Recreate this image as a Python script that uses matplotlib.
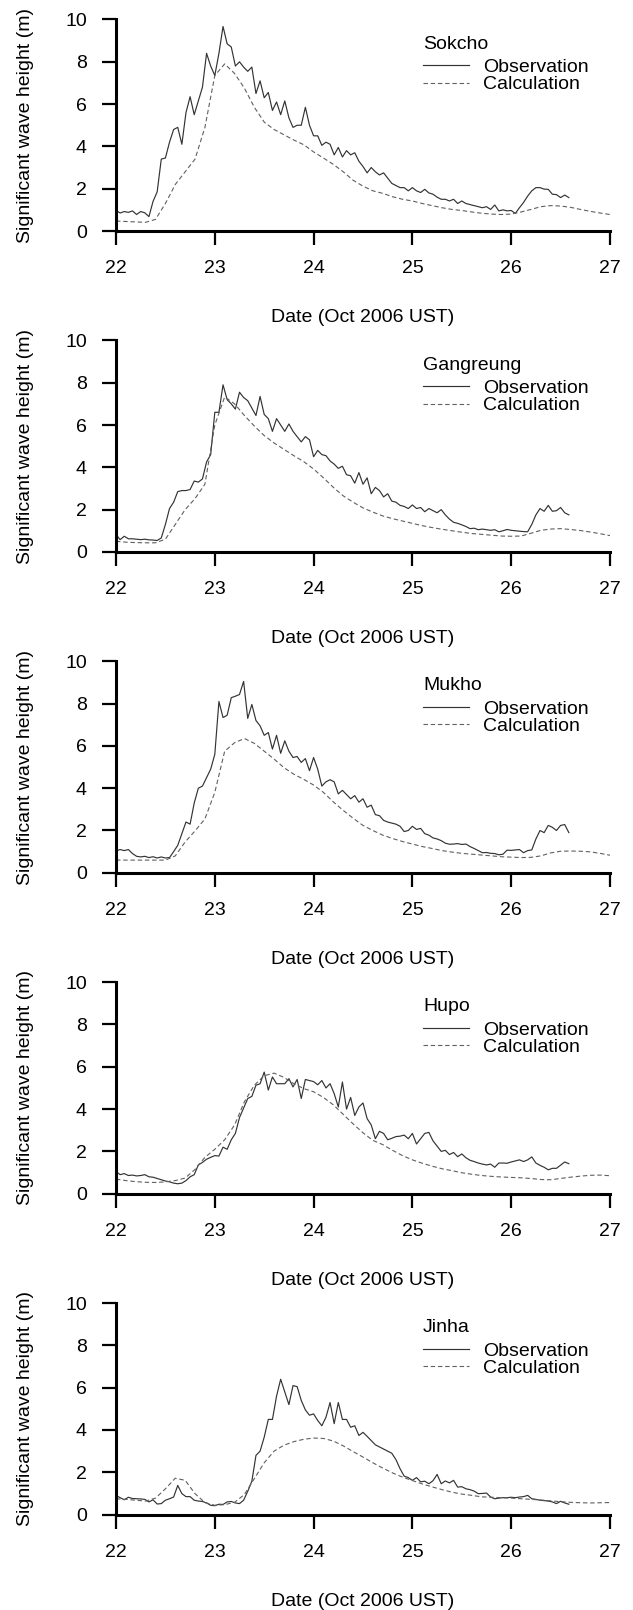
import numpy as np
import matplotlib.pyplot as plt
from matplotlib.lines import Line2D

stations = ['Sokcho', 'Gangreung', 'Mukho', 'Hupo', 'Jinha']

# hourly observations from 22 Oct 00h, calculation every 0.1 day
obs_days = 22 + np.arange(111) / 24
calc_days = np.round(np.arange(220, 271) / 10, 1)

obs_sokcho = [0.98, 0.85, 0.92, 0.88, 0.95, 0.78, 0.92, 0.86, 0.68, 1.40,
              1.85, 3.40, 3.45, 4.20, 4.80, 4.90, 4.10, 5.60, 6.35, 5.50,
              6.15, 6.80, 8.40, 7.80, 7.35, 8.40, 9.67, 8.85, 8.70, 7.80,
              8.00, 7.75, 7.55, 7.75, 6.50, 7.10, 6.30, 6.55, 5.70, 6.10,
              5.50, 6.15, 5.35, 4.90, 5.00, 5.00, 5.85, 5.00, 4.50, 4.50,
              4.05, 4.20, 4.10, 3.60, 3.95, 3.50, 3.80, 3.60, 3.70, 3.30,
              3.05, 2.75, 3.00, 2.80, 2.65, 2.75, 2.50, 2.25, 2.15, 2.05,
              2.05, 1.90, 2.05, 1.90, 1.82, 1.97, 1.80, 1.74, 1.60, 1.50,
              1.50, 1.42, 1.50, 1.30, 1.42, 1.30, 1.25, 1.20, 1.15, 1.10,
              1.15, 1.02, 1.23, 0.95, 1.00, 0.95, 0.97, 0.83, 1.10, 1.35,
              1.65, 1.90, 2.05, 2.05, 1.98, 1.97, 1.74, 1.72, 1.58, 1.70, 1.58]
obs_gangreung = [0.82, 0.58, 0.74, 0.62, 0.62, 0.60, 0.58, 0.60, 0.57, 0.56,
                 0.54, 0.66, 1.30, 2.05, 2.35, 2.85, 2.90, 2.90, 2.95, 3.35,
                 3.30, 3.45, 4.25, 4.60, 6.60, 6.60, 7.90, 7.20, 7.00, 6.75,
                 7.55, 7.30, 7.15, 6.80, 6.45, 7.35, 6.50, 6.30, 5.70, 6.30,
                 6.00, 5.70, 6.05, 5.70, 5.45, 5.20, 5.45, 5.30, 4.50, 4.80,
                 4.60, 4.55, 4.30, 4.15, 3.95, 4.05, 3.65, 3.60, 3.25, 3.75,
                 3.20, 3.50, 2.75, 3.05, 2.90, 2.60, 2.75, 2.40, 2.35, 2.20,
                 2.15, 2.05, 2.22, 2.05, 2.10, 1.90, 2.05, 1.95, 1.85, 2.00,
                 1.75, 1.55, 1.40, 1.35, 1.28, 1.20, 1.10, 1.12, 1.05, 1.08,
                 1.05, 1.02, 1.05, 0.95, 1.00, 1.06, 1.02, 1.00, 0.98, 0.96,
                 0.95, 1.30, 1.75, 2.05, 1.92, 2.20, 1.92, 1.95, 2.10, 1.85, 1.75]
obs_mukho = [1.03, 1.10, 1.05, 1.10, 0.91, 0.78, 0.75, 0.78, 0.72, 0.76,
             0.70, 0.75, 0.70, 0.72, 1.00, 1.30, 1.85, 2.40, 2.30, 3.30,
             4.00, 4.10, 4.50, 4.90, 5.60, 8.10, 7.34, 7.45, 8.28, 8.35,
             8.43, 9.05, 7.30, 7.96, 7.20, 6.95, 6.50, 6.63, 5.85, 6.50,
             5.65, 6.24, 5.75, 5.45, 5.50, 5.22, 5.40, 4.83, 5.45, 4.90,
             4.10, 4.30, 4.40, 4.30, 3.73, 3.90, 3.70, 3.50, 3.65, 3.34,
             3.50, 3.10, 3.20, 2.75, 2.70, 2.48, 2.40, 2.35, 2.30, 2.20,
             1.95, 2.00, 2.20, 2.05, 2.10, 1.85, 1.78, 1.65, 1.60, 1.52,
             1.40, 1.35, 1.36, 1.38, 1.34, 1.36, 1.24, 1.15, 1.05, 0.95,
             0.96, 0.92, 0.91, 0.85, 0.88, 1.07, 1.06, 1.08, 1.10, 0.95,
             1.05, 1.08, 1.60, 2.00, 1.90, 2.24, 2.15, 2.00, 2.24, 2.28, 1.90]
obs_hupo = [1.05, 0.90, 0.95, 0.86, 0.88, 0.84, 0.86, 0.90, 0.80, 0.78,
            0.72, 0.66, 0.60, 0.56, 0.50, 0.47, 0.50, 0.62, 0.80, 0.90,
            1.36, 1.48, 1.63, 1.72, 1.80, 1.78, 2.20, 2.10, 2.55, 2.85,
            3.60, 4.05, 4.50, 4.60, 5.13, 5.20, 5.75, 4.90, 5.52, 5.20,
            5.20, 5.20, 5.44, 5.05, 5.40, 4.50, 5.40, 5.35, 5.30, 5.15,
            5.35, 5.00, 5.20, 4.73, 4.10, 5.28, 4.00, 4.55, 3.70, 4.10,
            4.29, 3.55, 3.25, 2.60, 2.95, 2.85, 2.55, 2.62, 2.70, 2.72,
            2.77, 2.60, 2.85, 2.35, 2.60, 2.85, 2.90, 2.50, 2.25, 2.00,
            2.05, 1.85, 1.95, 1.75, 1.88, 1.70, 1.58, 1.52, 1.45, 1.40,
            1.36, 1.40, 1.25, 1.45, 1.45, 1.44, 1.50, 1.55, 1.60, 1.52,
            1.60, 1.74, 1.45, 1.34, 1.25, 1.13, 1.20, 1.20, 1.35, 1.50, 1.42]
obs_jinha = [0.91, 0.80, 0.70, 0.82, 0.76, 0.75, 0.74, 0.72, 0.60, 0.70,
             0.50, 0.52, 0.68, 0.75, 0.83, 1.38, 0.99, 0.85, 0.85, 0.68,
             0.64, 0.62, 0.55, 0.44, 0.42, 0.49, 0.48, 0.60, 0.62, 0.55,
             0.52, 0.68, 1.10, 1.58, 2.80, 3.00, 3.66, 4.50, 4.50, 5.60,
             6.40, 5.80, 5.20, 6.10, 6.05, 5.40, 4.95, 4.70, 4.76, 4.45,
             4.20, 4.60, 5.30, 4.30, 5.30, 4.50, 4.50, 4.13, 4.20, 3.74,
             3.89, 3.70, 3.50, 3.30, 3.20, 3.10, 3.00, 2.90, 2.60, 2.17,
             1.82, 1.75, 1.62, 1.75, 1.55, 1.58, 1.46, 1.60, 1.90, 1.46,
             1.59, 1.50, 1.62, 1.30, 1.32, 1.22, 1.18, 1.11, 0.99, 1.00,
             1.02, 0.83, 0.75, 0.78, 0.80, 0.80, 0.82, 0.80, 0.83, 0.85,
             0.91, 0.75, 0.72, 0.68, 0.66, 0.64, 0.60, 0.52, 0.63, 0.55, 0.49]

calc_sokcho = [0.47, 0.45, 0.43, 0.41, 0.55, 1.30, 2.20, 2.80, 3.40, 4.90,
               7.35, 7.90, 7.45, 6.75, 5.85, 5.15, 4.80, 4.55, 4.30, 4.08,
               3.74, 3.45, 3.15, 2.80, 2.40, 2.12, 1.90, 1.78, 1.62, 1.50,
               1.42, 1.30, 1.20, 1.10, 1.02, 0.97, 0.90, 0.84, 0.80, 0.78,
               0.80, 0.90, 1.02, 1.15, 1.20, 1.18, 1.12, 1.02, 0.93, 0.85, 0.78]
calc_gangreung = [0.50, 0.46, 0.44, 0.43, 0.43, 0.60, 1.30, 2.00, 2.52, 3.20,
                  6.00, 7.33, 7.00, 6.45, 5.95, 5.50, 5.15, 4.85, 4.55, 4.27,
                  3.92, 3.50, 3.05, 2.65, 2.35, 2.08, 1.88, 1.70, 1.57, 1.46,
                  1.35, 1.24, 1.15, 1.07, 1.00, 0.93, 0.87, 0.83, 0.79, 0.75,
                  0.74, 0.75, 0.88, 1.02, 1.08, 1.10, 1.06, 1.01, 0.94, 0.86, 0.77]
calc_mukho = [0.60, 0.60, 0.60, 0.60, 0.60, 0.60, 0.80, 1.46, 1.98, 2.55,
              3.80, 5.75, 6.15, 6.35, 6.12, 5.75, 5.38, 4.97, 4.66, 4.42,
              4.15, 3.80, 3.35, 2.95, 2.58, 2.24, 2.00, 1.78, 1.62, 1.48,
              1.36, 1.24, 1.15, 1.05, 0.98, 0.92, 0.88, 0.84, 0.80, 0.76,
              0.74, 0.72, 0.73, 0.80, 0.94, 1.02, 1.03, 1.02, 0.99, 0.92, 0.83]
calc_hupo = [0.69, 0.62, 0.57, 0.54, 0.53, 0.56, 0.62, 0.74, 1.15, 1.72,
             2.10, 2.55, 3.25, 4.35, 5.13, 5.58, 5.70, 5.50, 5.20, 4.97,
             4.82, 4.55, 4.20, 3.75, 3.30, 2.88, 2.52, 2.32, 2.05, 1.80,
             1.60, 1.44, 1.30, 1.18, 1.09, 0.99, 0.92, 0.86, 0.82, 0.79,
             0.77, 0.75, 0.72, 0.67, 0.66, 0.72, 0.78, 0.83, 0.87, 0.88, 0.85]
calc_jinha = [0.75, 0.72, 0.68, 0.64, 0.78, 1.22, 1.72, 1.62, 0.99, 0.57,
              0.44, 0.47, 0.58, 0.95, 1.70, 2.45, 3.00, 3.28, 3.45, 3.56,
              3.62, 3.60, 3.48, 3.25, 2.98, 2.72, 2.45, 2.20, 1.97, 1.77,
              1.61, 1.45, 1.31, 1.18, 1.06, 0.97, 0.91, 0.84, 0.82, 0.80,
              0.78, 0.75, 0.72, 0.69, 0.65, 0.61, 0.58, 0.56, 0.55, 0.56, 0.57]

obs_all = [obs_sokcho, obs_gangreung, obs_mukho, obs_hupo, obs_jinha]
calc_all = [calc_sokcho, calc_gangreung, calc_mukho, calc_hupo, calc_jinha]

plt.rcParams['font.family'] = ['Liberation Sans', 'DejaVu Sans']
plt.rcParams['font.size'] = 14

W, H = 633, 1610
fig = plt.figure(figsize=(W / 100, H / 100), dpi=100)

obs_style = dict(color='#333333', lw=0.85)
calc_style = dict(color='#606060', lw=0.8, ls=(0, (4, 2.5)))

for k, name in enumerate(stations):
    y0 = 231 + 320.9 * k
    ax = fig.add_axes([116 / W, 1 - y0 / H, 494 / W, 211.5 / H])
    ax.plot(obs_days, obs_all[k], **obs_style)
    ax.plot(calc_days, calc_all[k], **calc_style)
    ax.set_xlim(22, 27)
    ax.set_ylim(0, 10)
    ax.set_xticks(range(22, 28))
    ax.set_yticks(range(0, 11, 2))
    for s in ['top', 'right']:
        ax.spines[s].set_visible(False)
    ax.spines['left'].set_bounds(0, 10)
    ax.spines['bottom'].set_bounds(22, 27)
    ax.spines['left'].set_linewidth(2.2)
    ax.spines['bottom'].set_linewidth(2.2)
    ax.tick_params(direction='out', length=10, width=1.6, pad=11, labelsize=14)
    ax.set_xlabel('Date (Oct 2006 UST)', fontsize=14)
    ax.set_ylabel('Significant wave height (m)', fontsize=14)
    ax.xaxis.set_label_coords(0.5, -0.371)
    ax.yaxis.set_label_coords(-0.165, 0.5)

    ax.text(0.6215, 0.862, name, transform=ax.transAxes, fontsize=14, va='baseline')
    handles = [Line2D([], [], **obs_style), Line2D([], [], **calc_style)]
    ax.legend(handles, ['Observation', 'Calculation'], loc='upper left',
              bbox_to_anchor=(0.6215, 0.815), frameon=False, borderpad=0,
              borderaxespad=0, handlelength=2.37, handletextpad=0.72,
              labelspacing=-0.02, fontsize=14)

fig.savefig('out.png', dpi=100)
